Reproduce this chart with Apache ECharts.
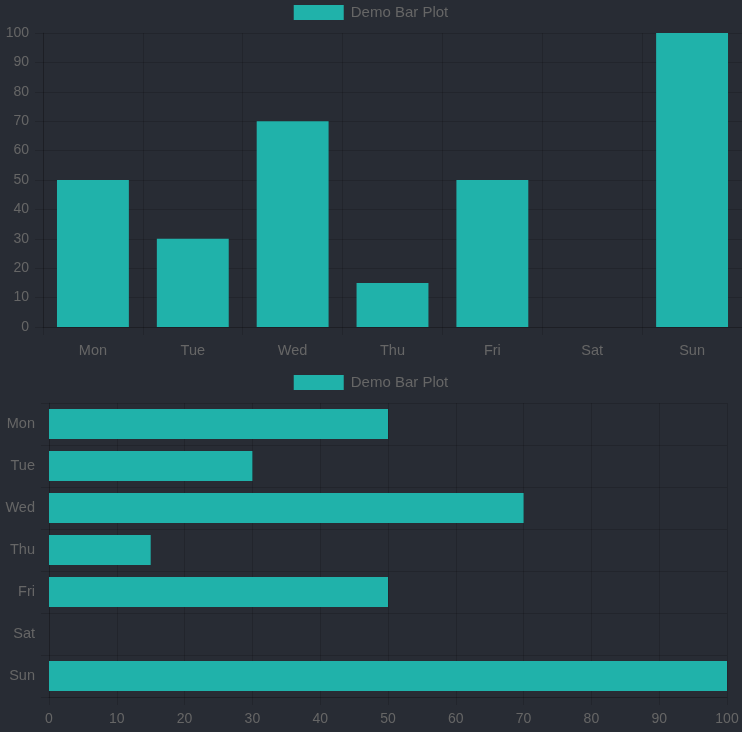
<!DOCTYPE html>
<html>
<head>
<meta charset="utf-8">
<script src="https://cdn.jsdelivr.net/npm/echarts@6/dist/echarts.min.js"></script>
<style>
html,body{margin:0;padding:0;background:#282c34;}
#c{width:742px;height:732px;}
</style>
</head>
<body>
<div id="c"></div>
<script>
const categories = ['Mon', 'Tue', 'Wed', 'Thu', 'Fri', 'Sat', 'Sun'];
const values = [50, 30, 70, 15, 50, 0, 100];
const seriesName = 'Demo Bar Plot';
const valueTicks = [0, 10, 20, 30, 40, 50, 60, 70, 80, 90, 100];

const textColor = '#666';
const gridColor = 'rgba(0,0,0,0.14)';
const barColor = '#20b2aa';
const font = 'Helvetica, Arial, "Liberation Sans", sans-serif';

const chart = echarts.init(document.getElementById('c'), null, {renderer: 'canvas'});

const lineStyle = {color: gridColor, width: 1};
const valueAxisBase = {
  type: 'value', min: valueTicks[0], max: valueTicks[valueTicks.length - 1], interval: 10,
  axisLine: {show: true, lineStyle},
  axisTick: {show: true, length: 8, lineStyle},
  splitLine: {show: true, lineStyle},
  axisLabel: {color: textColor, fontSize: 14, fontFamily: font}
};
const catAxisBase = {
  type: 'category', data: categories, boundaryGap: true,
  axisLine: {show: true, lineStyle},
  axisTick: {show: true, length: 8, lineStyle, alignWithLabel: false},
  splitLine: {show: true, lineStyle},
  axisLabel: {color: textColor, fontSize: 14.5, fontFamily: font, interval: 0}
};
const legendBase = {
  left: 'center', icon: 'rect', itemWidth: 50, itemHeight: 15, itemGap: 10, data: [seriesName],
  textStyle: {color: textColor, fontSize: 15, fontFamily: font, padding: [0, 0, 0, 2]}
};

chart.setOption({
  backgroundColor: '#282c34',
  animation: false,
  legend: [
    Object.assign({}, legendBase, {top: 0}),
    Object.assign({}, legendBase, {top: 370})
  ],
  grid: [
    {left: 43, top: 33, width: 700, height: 294, containLabel: false},
    {left: 49, top: 403, width: 678, height: 294, containLabel: false}
  ],
  xAxis: [
    Object.assign({}, catAxisBase, {gridIndex: 0, axisLabel: Object.assign({}, catAxisBase.axisLabel, {margin: 16})}),
    Object.assign({}, valueAxisBase, {gridIndex: 1, axisLabel: Object.assign({}, valueAxisBase.axisLabel, {margin: 15})})
  ],
  yAxis: [
    Object.assign({}, valueAxisBase, {gridIndex: 0, axisLabel: Object.assign({}, valueAxisBase.axisLabel, {margin: 14})}),
    Object.assign({}, catAxisBase, {gridIndex: 1, inverse: true, axisLabel: Object.assign({}, catAxisBase.axisLabel, {margin: 14})})
  ],
  series: [
    {name: seriesName, type: 'bar', xAxisIndex: 0, yAxisIndex: 0, data: values,
     barCategoryGap: '28%', itemStyle: {color: barColor, borderWidth: 0}},
    {name: seriesName, type: 'bar', xAxisIndex: 1, yAxisIndex: 1, data: values,
     barCategoryGap: '28.5%', itemStyle: {color: barColor, borderWidth: 0}}
  ]
});
</script>
</body>
</html>
